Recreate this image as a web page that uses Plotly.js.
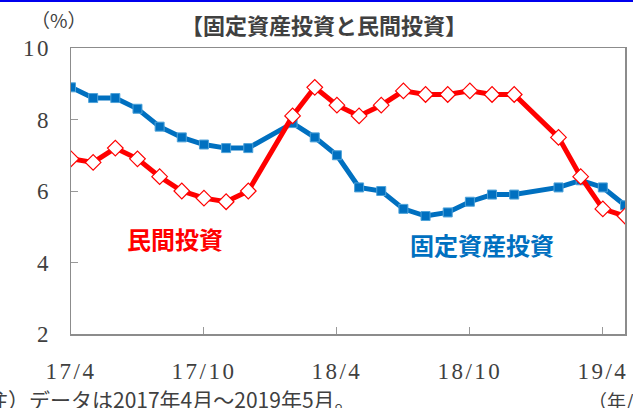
<!DOCTYPE html>
<html>
<head>
<meta charset="utf-8">
<script src="https://cdn.plot.ly/plotly-3.0.1.min.js"></script>
<style>
html,body{margin:0;padding:0;background:#fff;overflow:hidden;}
#chart{width:633px;height:408px;}
#topline{position:absolute;left:0;top:0;width:633px;height:2px;background:#0000ee;z-index:10;}
.xtick text, .ytick text{letter-spacing:2.5px;}
</style>
</head>
<body>
<div id="topline"></div>
<div id="chart"></div>
<script>
// months (yy/m); China reports Jan-Feb combined, so no January points
var months = ['17/4','17/5','17/6','17/7','17/8','17/9','17/10','17/11','17/12',
              '18/2','18/3','18/4','18/5','18/6','18/7','18/8','18/9','18/10','18/11','18/12',
              '19/2','19/3','19/4','19/5'];
var fixedAssetInv = [8.9,8.6,8.6,8.3,7.8,7.5,7.3,7.2,7.2,
                     7.9,7.5,7.0,6.1,6.0,5.5,5.3,5.4,5.7,5.9,5.9,
                     6.1,6.3,6.1,5.6];
var privateInv = [6.9,6.8,7.2,6.9,6.4,6.0,5.8,5.7,6.0,
                  8.1,8.9,8.4,8.1,8.4,8.8,8.7,8.7,8.8,8.7,8.7,
                  7.5,6.4,5.5,5.3];
var tickLabels = ['17/4','17/10','18/4','18/10','19/4'];

function idx(s){ var p = s.split('/'); return (parseInt(p[0],10)-17)*12 + parseInt(p[1],10) - 4; }
var xs = months.map(idx);
var tickPos = tickLabels.map(idx);

var traces = [
  {x: xs, y: fixedAssetInv, type:'scatter', mode:'lines+markers', name:'固定資産投資',
   line:{color:'#0070C0', width:5},
   marker:{symbol:'square', size:9, color:'#0070C0', line:{color:'#4fa3d9', width:1}}},
  {x: xs, y: privateInv, type:'scatter', mode:'lines+markers', name:'民間投資',
   line:{color:'#FF0000', width:5},
   marker:{symbol:'diamond', size:12, color:'#FFFFFF', line:{color:'#FF0000', width:1.2}}}
];

var tickFont = {family:'"Liberation Serif", "DejaVu Serif", serif', size:23, color:'#404040'};
var jp = '"Noto Sans CJK JP", "Noto Sans", sans-serif';

var layout = {
  width:633, height:408,
  margin:{l:71, r:8, t:48, b:74},
  paper_bgcolor:'#fff', plot_bgcolor:'#fff',
  showlegend:false,
  xaxis:{range:[idx('17/4'), idx('19/5')], tickmode:'array', tickvals:tickPos, ticktext:tickLabels,
         ticks:'inside', ticklen:7, tickcolor:'#999', tickwidth:1,
         showline:true, linecolor:'#8c8c8c', linewidth:1.5, mirror:true,
         showgrid:false, zeroline:false, tickfont:tickFont, ticklabelstandoff:16},
  yaxis:{range:[2,10], dtick:2, ticks:'inside', ticklen:7, tickcolor:'#999', tickwidth:1,
         showline:true, linecolor:'#8c8c8c', linewidth:1.5, mirror:true,
         showgrid:false, zeroline:false, tickfont:tickFont, ticklabelstandoff:14},
  annotations:[
    {text:'<b>【固定資産投資と民間投資】</b>', xref:'paper', yref:'paper', x:(324-71)/554, y:1+(48-24)/286,
     showarrow:false, xanchor:'center', yanchor:'middle', font:{family:jp, size:22, color:'#404040'}},
    {text:'（%）', xref:'paper', yref:'paper', x:(59-71)/554, y:1+(48-20)/286,
     showarrow:false, xanchor:'center', yanchor:'middle', font:{family:jp, size:19, color:'#404040'}},
    {text:'<b>民間投資</b>', xref:'paper', yref:'paper', x:(175-71)/554, y:(334-238)/286,
     showarrow:false, xanchor:'center', yanchor:'middle', font:{family:jp, size:24, color:'#FF0000'}},
    {text:'<b>固定資産投資</b>', xref:'paper', yref:'paper', x:(482-71)/554, y:(334-245)/286,
     showarrow:false, xanchor:'center', yanchor:'middle', font:{family:jp, size:24, color:'#0070C0'}},
    {text:'（注）データは2017年4月～2019年5月。', xref:'paper', yref:'paper', x:(-36-71)/554, y:-(399-334)/286,
     showarrow:false, xanchor:'left', yanchor:'middle', font:{family:jp, size:21, color:'#404040'}},
    {text:'（年/月）', xref:'paper', yref:'paper', x:(586-71)/554, y:-(401-334)/286,
     showarrow:false, xanchor:'left', yanchor:'middle', font:{family:jp, size:19, color:'#404040'}}
  ]
};

Plotly.newPlot('chart', traces, layout, {displayModeBar:false, staticPlot:true});
</script>
</body>
</html>
